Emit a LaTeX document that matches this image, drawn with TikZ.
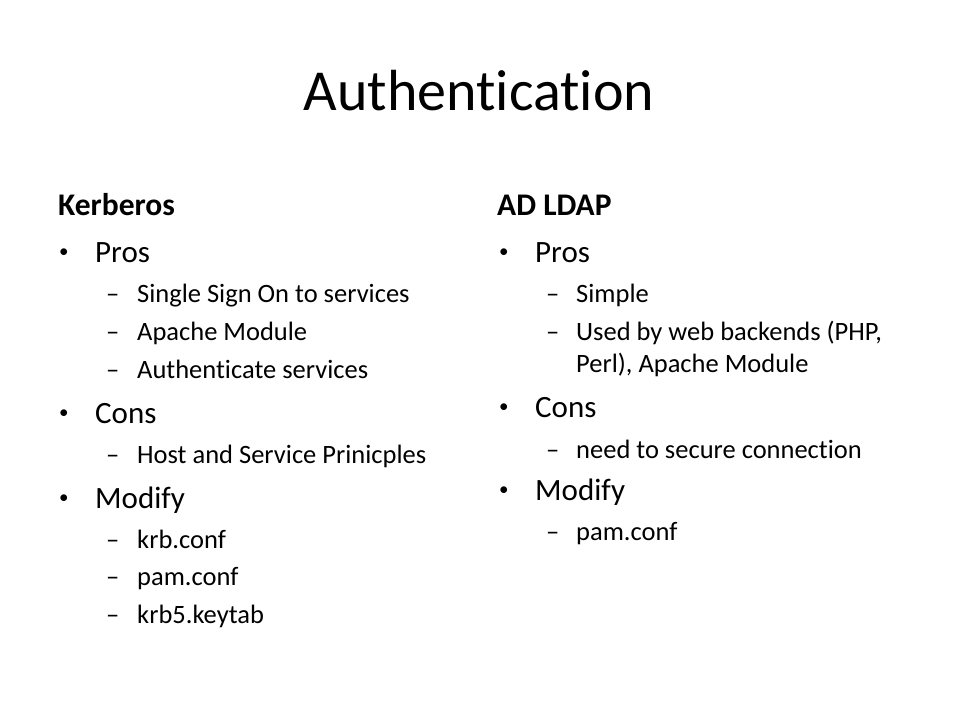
\documentclass[tikz,border=0pt]{standalone}
\usepackage{fontspec}
\setmainfont[Ligatures={NoCommon}]{Carlito}
\tikzset{
  slidetitle/.style={inner sep=0, anchor=base, font=\fontsize{58}{64}\selectfont},
  colhead/.style={inner sep=0, anchor=base west, font=\fontsize{31.5}{36}\selectfont\bfseries},
  lvlone/.style={inner sep=0, anchor=base west, font=\fontsize{31}{36}\selectfont},
  lvlbul/.style={inner sep=0, anchor=base west, yshift=5, font=\fontsize{19}{22}\selectfont},
  lvltwo/.style={inner sep=0, anchor=base west, align=left, font=\fontsize{26.5}{32}\selectfont},
}
\begin{document}
\begin{tikzpicture}[x=1pt, y=-1pt]
\useasboundingbox (0,0) rectangle (960,720);
%% Title
\node[slidetitle](title) at (479, 110) {Authentication};
%% Left column
\node[colhead](kerb) at (58, 215) {Kerberos};
\node[lvlbul](kpbul) at (59, 262) {•};
\node[lvlone](kpros) at (95, 262) {Pros};
\node[lvltwo](kd1) at (106, 302) {–};
\node[lvltwo](kp1) at (137, 302) {Single Sign On to services};
\node[lvltwo](kd2) at (106, 340) {–};
\node[lvltwo](kp2) at (137, 340) {Apache Module};
\node[lvltwo](kd3) at (106, 378) {–};
\node[lvltwo](kp3) at (137, 378) {Authenticate services};
\node[lvlbul](kcbul) at (59, 423) {•};
\node[lvlone](kcons) at (95, 423) {Cons};
\node[lvltwo](kd4) at (106, 463) {–};
\node[lvltwo](kc1) at (137, 463) {Host and Service Prinicples};
\node[lvlbul](kmbul) at (59, 508) {•};
\node[lvlone](kmod) at (95, 508) {Modify};
\node[lvltwo](kd5) at (106, 548) {–};
\node[lvltwo](km1) at (137, 548) {krb.conf};
\node[lvltwo](kd6) at (106, 585) {–};
\node[lvltwo](km2) at (137, 585) {pam.conf};
\node[lvltwo](kd7) at (106, 623) {–};
\node[lvltwo](km3) at (137, 623) {krb5.keytab};
%% Right column
\node[colhead](ldap) at (497, 215) {AD LDAP};
\node[lvlbul](lpbul) at (499, 262) {•};
\node[lvlone](lpros) at (535, 262) {Pros};
\node[lvltwo](ld1) at (546, 302) {–};
\node[lvltwo](lp1) at (576, 302) {Simple};
\node[lvltwo](ld2) at (546, 340) {–};
\node[lvltwo](lp2) at (576, 340) {Used by web backends (PHP,};
\node[lvltwo](lp3) at (576, 372) {Perl), Apache Module};
\node[lvlbul](lcbul) at (499, 417) {•};
\node[lvlone](lcons) at (535, 417) {Cons};
\node[lvltwo](ld3) at (546, 458) {–};
\node[lvltwo](lc1) at (576, 458) {need to secure connection};
\node[lvlbul](lmbul) at (499, 500) {•};
\node[lvlone](lmod) at (535, 500) {Modify};
\node[lvltwo](ld4) at (546, 540) {–};
\node[lvltwo](lm1) at (576, 540) {pam.conf};
\end{tikzpicture}
\end{document}
